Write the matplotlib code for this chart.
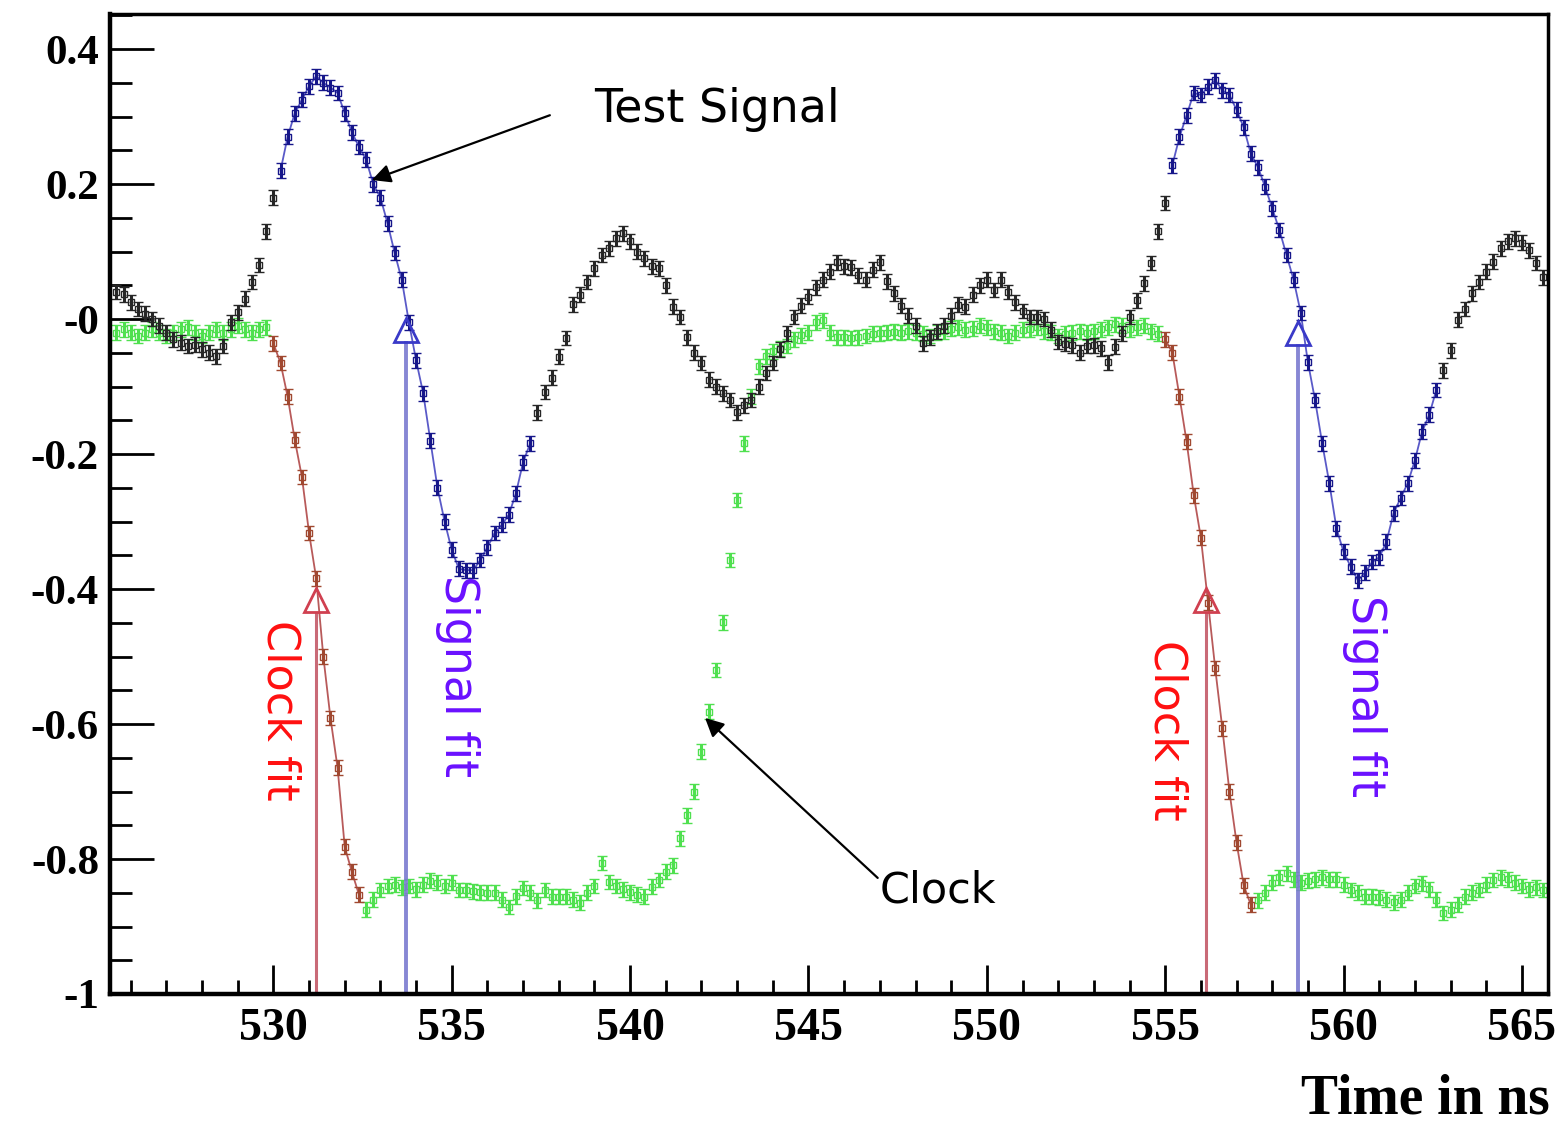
import numpy as np
import matplotlib
matplotlib.use("Agg")
import matplotlib.pyplot as plt
from matplotlib.ticker import MultipleLocator, FixedLocator

# ---------------- data ----------------
t_start = 525.6          # first sample time (ns)
t_step = 0.2             # sampling step (ns)

signal = [0.040, 0.037, 0.025, 0.015, 0.008, 0.000, -0.010, -0.020, -0.030, -0.035,
          -0.040, -0.038, -0.045, -0.050, -0.055, -0.040, -0.005, 0.010, 0.030, 0.055,
          0.080, 0.130, 0.180, 0.220, 0.270, 0.305, 0.325, 0.345, 0.360, 0.350,
          0.343, 0.335, 0.305, 0.277, 0.255, 0.236, 0.200, 0.180, 0.142, 0.098,
          0.058, -0.005, -0.061, -0.110, -0.180, -0.250, -0.300, -0.342, -0.370, -0.372,
          -0.372, -0.357, -0.338, -0.317, -0.305, -0.290, -0.258, -0.212, -0.184, -0.139,
          -0.108, -0.087, -0.056, -0.028, 0.022, 0.036, 0.055, 0.075, 0.095, 0.105,
          0.120, 0.127, 0.115, 0.100, 0.090, 0.078, 0.075, 0.050, 0.018, 0.003,
          -0.027, -0.050, -0.065, -0.090, -0.100, -0.110, -0.120, -0.138, -0.128, -0.120,
          -0.100, -0.080, -0.065, -0.045, -0.021, 0.003, 0.020, 0.033, 0.047, 0.058,
          0.070, 0.084, 0.078, 0.077, 0.065, 0.058, 0.073, 0.084, 0.056, 0.038,
          0.020, 0.005, -0.010, -0.036, -0.027, -0.018, -0.010, 0.005, 0.021, 0.018,
          0.036, 0.050, 0.058, 0.043, 0.058, 0.040, 0.025, 0.012, 0.003, 0.003,
          0.000, -0.016, -0.034, -0.037, -0.039, -0.050, -0.040, -0.039, -0.043, -0.064,
          -0.041, -0.021, 0.003, 0.028, 0.053, 0.083, 0.130, 0.172, 0.228, 0.270,
          0.302, 0.335, 0.332, 0.344, 0.354, 0.339, 0.332, 0.310, 0.284, 0.245,
          0.225, 0.196, 0.164, 0.132, 0.095, 0.058, 0.009, -0.064, -0.120, -0.184,
          -0.243, -0.310, -0.345, -0.367, -0.387, -0.376, -0.360, -0.353, -0.330, -0.288,
          -0.265, -0.243, -0.209, -0.167, -0.142, -0.105, -0.076, -0.046, -0.001, 0.015,
          0.038, 0.055, 0.070, 0.085, 0.105, 0.115, 0.120, 0.113, 0.102, 0.083,
          0.062]

clock = [-0.020, -0.015, -0.020, -0.025, -0.020, -0.015, -0.020, -0.025, -0.020, -0.015,
         -0.012, -0.020, -0.025, -0.020, -0.015, -0.020, -0.015, -0.010, -0.015, -0.020,
         -0.015, -0.012, -0.036, -0.065, -0.115, -0.179, -0.234, -0.317, -0.384, -0.500,
         -0.591, -0.665, -0.782, -0.819, -0.853, -0.875, -0.860, -0.846, -0.840, -0.838,
         -0.842, -0.840, -0.845, -0.838, -0.832, -0.835, -0.840, -0.835, -0.846, -0.846,
         -0.848, -0.849, -0.850, -0.850, -0.860, -0.871, -0.855, -0.843, -0.850, -0.861,
         -0.846, -0.856, -0.856, -0.856, -0.860, -0.865, -0.850, -0.840, -0.806, -0.834,
         -0.840, -0.845, -0.849, -0.853, -0.856, -0.841, -0.831, -0.819, -0.809, -0.769,
         -0.735, -0.700, -0.641, -0.582, -0.520, -0.449, -0.357, -0.268, -0.184, -0.115,
         -0.070, -0.055, -0.048, -0.043, -0.040, -0.030, -0.024, -0.020, -0.005, -0.002,
         -0.020, -0.027, -0.027, -0.028, -0.027, -0.025, -0.022, -0.021, -0.020, -0.019,
         -0.020, -0.018, -0.020, -0.022, -0.025, -0.020, -0.018, -0.014, -0.012, -0.016,
         -0.014, -0.010, -0.012, -0.018, -0.020, -0.025, -0.020, -0.016, -0.015, -0.012,
         -0.018, -0.020, -0.025, -0.022, -0.020, -0.018, -0.020, -0.018, -0.015, -0.012,
         -0.008, -0.010, -0.015, -0.012, -0.010, -0.018, -0.022, -0.030, -0.050, -0.115,
         -0.182, -0.261, -0.324, -0.420, -0.517, -0.606, -0.700, -0.776, -0.839, -0.868,
         -0.861, -0.850, -0.835, -0.827, -0.821, -0.830, -0.835, -0.832, -0.830, -0.827,
         -0.830, -0.830, -0.838, -0.846, -0.850, -0.856, -0.856, -0.857, -0.860, -0.864,
         -0.860, -0.850, -0.840, -0.836, -0.845, -0.860, -0.880, -0.875, -0.868, -0.856,
         -0.850, -0.846, -0.838, -0.831, -0.827, -0.830, -0.835, -0.840, -0.845, -0.842,
         -0.846]

point_error = 0.011

signal_fit_windows = [(530.2, 537.2), (555.2, 562.6)]
clock_fit_windows = [(530.0, 532.4), (555.0, 557.4)]

clock_fit_t = [531.19, 556.14]
clock_fit_y = [-0.416, -0.416]
signal_fit_t = [533.72, 558.71]
signal_fit_y = [-0.016, -0.020]

x_major = [530, 535, 540, 545, 550, 555, 560, 565]
y_major = [0.4, 0.2, 0.0, -0.2, -0.4, -0.6, -0.8, -1.0]
y_labels = ["0.4", "0.2", "-0", "-0.2", "-0.4", "-0.6", "-0.8", "-1"]

# ---------------- plot ----------------
W, H = 1562, 1128
fig = plt.figure(figsize=(W / 100, H / 100), dpi=100)
ax = fig.add_axes([110 / W, 1 - 994 / H, (1548 - 110) / W, (994 - 14) / H])

t = t_start + t_step * np.arange(len(signal))
sig = np.array(signal)
clk = np.array(clock)


def in_windows(tt, wins):
    m = np.zeros_like(tt, dtype=bool)
    for a, b in wins:
        m |= (tt >= a - 1e-6) & (tt <= b + 1e-6)
    return m


sig_fit_mask = in_windows(t, signal_fit_windows)
clk_fit_mask = in_windows(t, clock_fit_windows)

common = dict(fmt='s', ms=4.0, mfc='none', mew=1.0, capsize=3.6, elinewidth=2.2,
              capthick=2.2, ls='none')

GREEN = '#4fe04f'
BLACK = '#262626'
BLUE = '#16168a'
RED = '#a04830'

# clock (green) outside fit windows
ax.errorbar(t[~clk_fit_mask], clk[~clk_fit_mask], yerr=point_error, color=GREEN,
            zorder=2, **common)
# test signal (black) outside fit windows
ax.errorbar(t[~sig_fit_mask], sig[~sig_fit_mask], yerr=point_error, color=BLACK,
            zorder=3, **common)

# fitted parts
for a, b in clock_fit_windows:
    m = (t >= a - 1e-6) & (t <= b + 1e-6)
    ax.plot(t[m], clk[m], color='#b85a5a', lw=1.3, zorder=4)
    ax.errorbar(t[m], clk[m], yerr=point_error, color=RED, zorder=5, **common)
for a, b in signal_fit_windows:
    m = (t >= a - 1e-6) & (t <= b + 1e-6)
    ax.plot(t[m], sig[m], color='#5a5ac8', lw=1.3, zorder=4)
    ax.errorbar(t[m], sig[m], yerr=point_error, color=BLUE, zorder=5, **common)

# fit result markers
ymin, ymax = -1.0, 0.452
for tc, yc in zip(clock_fit_t, clock_fit_y):
    ax.plot([tc, tc], [ymin, yc - 0.02], color='#c0505f', lw=2.2, alpha=0.85, zorder=6)
    ax.plot([tc], [yc], marker='^', ms=17, mfc='none', mec='#d04050', mew=2.0, zorder=7)
for ts, ys in zip(signal_fit_t, signal_fit_y):
    ax.plot([ts, ts], [ymin, ys - 0.02], color='#7a7ad0', lw=2.8, alpha=0.9, zorder=6)
    ax.plot([ts], [ys], marker='^', ms=17, mfc='none', mec='#3a3ac8', mew=2.0, zorder=7)

# text annotations
txt_font = ['DejaVu Sans']
for tc, ty in [(530.18, -0.446), (555.04, -0.476)]:
    ax.text(tc, ty, 'Clock fit', rotation=-90, ha='center', va='top', color='#ff1010',
            fontsize=32, family=txt_font, zorder=8)
for tc, ty in [(535.15, -0.379), (560.59, -0.409)]:
    ax.text(tc, ty, 'Signal fit', rotation=-90, ha='center', va='top', color='#6a10ff',
            fontsize=33, family=txt_font, zorder=8)

ax.annotate('', xy=(532.76, 0.206), xytext=(537.75, 0.302),
            arrowprops=dict(arrowstyle='-|>', color='black', lw=1.6,
                            mutation_scale=28, shrinkA=0, shrinkB=0), zorder=9)
ax.text(539.0, 0.31, 'Test Signal', ha='left', va='center', fontsize=33,
        family=txt_font, color='black', zorder=9)
ax.annotate('', xy=(542.10, -0.591), xytext=(546.94, -0.828),
            arrowprops=dict(arrowstyle='-|>', color='black', lw=1.6,
                            mutation_scale=28, shrinkA=0, shrinkB=0), zorder=9)
ax.text(547.0, -0.846, 'Clock', ha='left', va='center', fontsize=31,
        family=txt_font, color='black', zorder=9)

# axes
ax.set_xlim(525.42, 565.73)
ax.set_ylim(ymin, ymax)

ax.xaxis.set_major_locator(FixedLocator(x_major))
ax.xaxis.set_minor_locator(MultipleLocator(1))
ax.yaxis.set_major_locator(FixedLocator(y_major))
ax.yaxis.set_minor_locator(MultipleLocator(0.05))
ax.set_yticklabels(y_labels)
ax.set_xticklabels([str(v) for v in x_major])

for lab in ax.get_xticklabels():
    lab.set_fontfamily('Liberation Serif')
    lab.set_fontweight('bold')
    lab.set_fontsize(33)
for lab in ax.get_yticklabels():
    lab.set_fontfamily('Liberation Serif')
    lab.set_fontweight('bold')
    lab.set_fontsize(31)

ax.tick_params(axis='y', which='major', direction='in', length=32, width=2.0, pad=8,
               right=False)
ax.tick_params(axis='y', which='minor', direction='in', length=16, width=2.0, right=False)
ax.tick_params(axis='x', which='major', direction='in', length=21, width=2.0, pad=10,
               top=False)
ax.tick_params(axis='x', which='minor', direction='in', length=10, width=2.0, top=False)

for side in ['left', 'bottom']:
    ax.spines[side].set_linewidth(3.2)
for side in ['top', 'right']:
    ax.spines[side].set_linewidth(2.5)
for s in ax.spines.values():
    s.set_color('black')
    s.set_zorder(10)

fig.text(1550 / W, 1 - 1100 / H, 'Time in ns', ha='right', va='center',
         fontsize=40, family='Liberation Serif', weight='bold')

fig.savefig('out.png', dpi=100)
